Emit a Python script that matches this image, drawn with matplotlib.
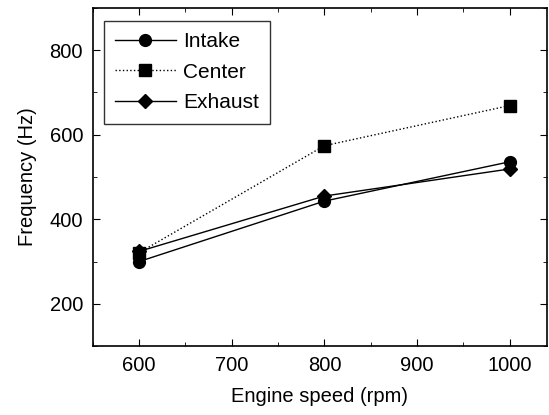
import matplotlib
matplotlib.use('Agg')
import matplotlib.pyplot as plt
from matplotlib.ticker import MultipleLocator

plt.rcParams['font.family'] = ['Liberation Sans', 'DejaVu Sans']

# Engine speed and measured frequencies
engine_speed = [600, 800, 1000]
intake = [300, 443, 536]
center = [321, 574, 669]
exhaust = [324, 455, 519]

fig = plt.figure(figsize=(5.49, 4.15), dpi=100)
ax = fig.add_axes([0.169, 0.166, 0.827, 0.815])

ax.plot(engine_speed, intake, color='black', linestyle='-', linewidth=1.0,
        marker='o', markersize=8.5, label='Intake')
ax.plot(engine_speed, center, color='black', linestyle=':', linewidth=1.0,
        marker='s', markersize=8, label='Center')
ax.plot(engine_speed, exhaust, color='black', linestyle='-', linewidth=1.0,
        marker='D', markersize=7.5, label='Exhaust')

ax.set_xlim(550, 1040)
ax.set_ylim(100, 900)
ax.xaxis.set_major_locator(MultipleLocator(100))
ax.xaxis.set_minor_locator(MultipleLocator(50))
ax.yaxis.set_major_locator(MultipleLocator(200))
ax.yaxis.set_minor_locator(MultipleLocator(100))
ax.tick_params(which='both', direction='in', top=True, right=True, labelsize=14.5)
ax.tick_params(which='major', length=5, pad=7)
ax.tick_params(which='minor', length=3)
for s in ax.spines.values():
    s.set_linewidth(1.2)

ax.set_xlabel('Engine speed (rpm)', fontsize=14.5, labelpad=9)
ax.set_ylabel('Frequency (Hz)', fontsize=14.5, labelpad=9)

leg = ax.legend(loc='upper left', bbox_to_anchor=(0.024, 0.962), fontsize=15,
                frameon=True, fancybox=False, edgecolor='black',
                handlelength=2.9, handletextpad=0.35, borderpad=0.55,
                labelspacing=0.55, borderaxespad=0)
leg.get_frame().set_linewidth(1.0)

fig.savefig('out.png', dpi=100)
